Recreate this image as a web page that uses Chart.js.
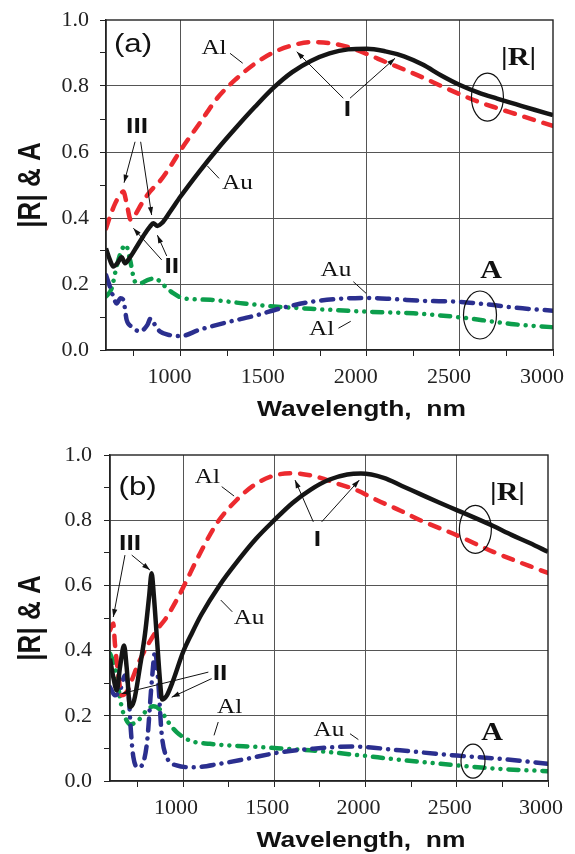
<!DOCTYPE html>
<html>
<head>
<meta charset="utf-8">
<script src="https://cdn.jsdelivr.net/npm/chart.js@4.4.0/dist/chart.umd.min.js"></script>
<style>
    html, body { margin: 0; padding: 0; background: #fff; }
    #wrap { position: relative; width: 575px; height: 854px; }
    #chartA { position: absolute; left: 0; top: 0; }
    #chartB { position: absolute; left: 0; top: 425px; }
</style>
</head>
<body>
<div id="wrap">
    <canvas id="chartA" width="575" height="425"></canvas>
    <canvas id="chartB" width="575" height="429"></canvas>
</div>
<script>
// tick positions (both panels)
var xTicks = [750, 1000, 1250, 1500, 1750, 2000, 2250, 2500, 2750, 3000];
var yTicks = [0, 0.1, 0.2, 0.3, 0.4, 0.5, 0.6, 0.7, 0.8, 0.9, 1.0];

// panel (a): |R| of Au
var wlAuRa = [600, 621, 639, 661, 684, 702, 729, 765, 800, 836, 854, 876, 899, 944, 1000, 1100, 1200, 1300, 1400, 1500,
    1600, 1700, 1800, 1900, 2000, 2100, 2200, 2300, 2400, 2500, 2600, 2700, 2800, 2900, 3000];
var auRa = [0.308, 0.273, 0.253, 0.263, 0.281, 0.263, 0.281, 0.313, 0.345, 0.374, 0.384, 0.376, 0.384, 0.419, 0.465, 0.54, 0.61, 0.675, 0.737, 0.795,
    0.842, 0.876, 0.899, 0.911, 0.913, 0.905, 0.89, 0.865, 0.832, 0.803, 0.78, 0.762, 0.745, 0.728, 0.712];
// panel (a): |R| of Al
var wlAlRa = [600, 625, 650, 675, 693, 711, 733, 756, 792, 836, 890, 950, 1000, 1100, 1200, 1300, 1400, 1500, 1600, 1700,
    1800, 1900, 2000, 2100, 2200, 2300, 2400, 2500, 2600, 2700, 2800, 2900, 3000];
var alRa = [0.368, 0.41, 0.445, 0.47, 0.48, 0.444, 0.394, 0.409, 0.444, 0.48, 0.512, 0.56, 0.605, 0.685, 0.765, 0.822, 0.868, 0.902, 0.923, 0.933,
    0.93, 0.918, 0.897, 0.873, 0.85, 0.826, 0.8, 0.775, 0.752, 0.733, 0.715, 0.697, 0.679];
// panel (a): A of Au
var wlAuAa = [600, 621, 639, 657, 678, 693, 711, 738, 783, 822, 840, 863, 890, 944, 1000, 1100, 1250, 1400, 1550, 1700,
    1850, 2000, 2150, 2300, 2500, 2650, 2800, 3000];
var auAa = [0.227, 0.192, 0.162, 0.141, 0.157, 0.152, 0.091, 0.071, 0.056, 0.076, 0.096, 0.076, 0.056, 0.045, 0.042, 0.061, 0.084, 0.104, 0.128, 0.146,
    0.155, 0.158, 0.154, 0.149, 0.146, 0.138, 0.128, 0.119];
// panel (a): A of Al
var wlAlAa = [600, 630, 657, 684, 707, 729, 756, 783, 822, 863, 908, 961, 1015, 1160, 1340, 1520, 1700, 2000, 2250, 2500,
    2680, 2790, 3000];
var alAa = [0.162, 0.186, 0.253, 0.303, 0.318, 0.273, 0.207, 0.202, 0.212, 0.217, 0.197, 0.172, 0.157, 0.152, 0.141, 0.131, 0.125, 0.116, 0.111, 0.099,
    0.086, 0.078, 0.069];

// panel (b): |R| of Au
var wlAuRb = [600, 618, 637, 655, 677, 691, 710, 732, 764, 792, 815, 828, 840, 858, 875, 885, 911, 947, 1000, 1050,
    1100, 1200, 1300, 1400, 1500, 1600, 1700, 1800, 1900, 1975, 2100, 2200, 2300, 2400, 2500, 2600, 2700, 2800, 2900, 3000];
var auRb = [0.375, 0.319, 0.278, 0.35, 0.416, 0.35, 0.227, 0.247, 0.35, 0.452, 0.57, 0.637, 0.57, 0.43, 0.30, 0.25, 0.262, 0.31, 0.395, 0.455,
    0.51, 0.60, 0.675, 0.743, 0.80, 0.853, 0.894, 0.924, 0.94, 0.943, 0.93, 0.905, 0.88, 0.855, 0.831, 0.807, 0.782, 0.755, 0.73, 0.703];
// panel (b): |R| of Al
var wlAlRb = [600, 618, 627, 645, 664, 691, 719, 755, 801, 856, 911, 965, 1002, 1093, 1185, 1294, 1404, 1513, 1604, 1733,
    1842, 1952, 2061, 2189, 2300, 2500, 2700, 3000];
var alRb = [0.462, 0.483, 0.421, 0.329, 0.263, 0.273, 0.309, 0.36, 0.411, 0.462, 0.503, 0.555, 0.595, 0.698, 0.79, 0.862, 0.913, 0.939, 0.944, 0.933,
    0.913, 0.892, 0.862, 0.83, 0.80, 0.754, 0.703, 0.638];
// panel (b): A of Au
var wlAuAb = [600, 627, 655, 682, 700, 713, 728, 755, 783, 804, 828, 847, 865, 883, 911, 965, 1056, 1203, 1349, 1532,
    1714, 1933, 2001, 2189, 2500, 2737, 3000];
var auAb = [0.288, 0.263, 0.278, 0.324, 0.288, 0.165, 0.073, 0.042, 0.058, 0.124, 0.299, 0.396, 0.299, 0.145, 0.073, 0.048, 0.042, 0.053, 0.068, 0.088,
    0.099, 0.106, 0.104, 0.094, 0.078, 0.068, 0.053];
// panel (b): A of Al
var wlAlAb = [600, 627, 645, 664, 682, 710, 755, 801, 837, 874, 919, 965, 1038, 1148, 1422, 1696, 1950, 2189, 2500, 2737, 3000];
var alAb = [0.391, 0.35, 0.288, 0.227, 0.196, 0.174, 0.186, 0.217, 0.229, 0.219, 0.181, 0.15, 0.124, 0.114, 0.104, 0.094, 0.08, 0.065, 0.048, 0.037, 0.03];

var SERIF = '21px "Liberation Serif", "Times New Roman", serif';
var BSERIF = 'bold 25px "Liberation Serif", "Times New Roman", serif';
var ROMAN = 'bold 22px "Liberation Sans", Arial, sans-serif';
var PANEL = '26px "Liberation Sans", Arial, sans-serif';

// labels, leaders, arrows and ellipses, placed in data units
var notesA = [
    { t: 'text', s: '(a)', x: 745, y: 0.924, f: PANEL },
    { t: 'text', s: 'Al', x: 1180, y: 0.915, f: SERIF },
    { t: 'line', x1: 1266, y1: 0.899, x2: 1334, y2: 0.869 },
    { t: 'text', s: 'Au', x: 1306, y: 0.504, f: SERIF },
    { t: 'line', x1: 1144, y1: 0.558, x2: 1207, y2: 0.520 },
    { t: 'text', s: 'III', x: 767, y: 0.676, f: ROMAN },
    { t: 'arrow', x1: 756, y1: 0.631, x2: 697, y2: 0.507 },
    { t: 'arrow', x1: 786, y1: 0.631, x2: 845, y2: 0.409 },
    { t: 'text', s: 'II', x: 953, y: 0.252, f: ROMAN },
    { t: 'arrow', x1: 899, y1: 0.273, x2: 747, y2: 0.369 },
    { t: 'arrow', x1: 926, y1: 0.285, x2: 876, y2: 0.348 },
    { t: 'text', s: 'I', x: 1896, y: 0.727, f: ROMAN },
    { t: 'arrow', x1: 1874, y1: 0.763, x2: 1624, y2: 0.904 },
    { t: 'arrow', x1: 1910, y1: 0.763, x2: 2152, y2: 0.884 },
    { t: 'text', s: '|R|', x: 2815, y: 0.882, f: BSERIF },
    { t: 'ellipse', x: 2648, y: 0.766, rx: 16, ry: 24 },
    { t: 'text', s: 'A', x: 2667, y: 0.237, f: BSERIF },
    { t: 'ellipse', x: 2608, y: 0.106, rx: 16.5, ry: 24 },
    { t: 'text', s: 'Au', x: 1834, y: 0.24, f: SERIF },
    { t: 'line', x1: 1928, y1: 0.207, x2: 1996, y2: 0.172 },
    { t: 'text', s: 'Al', x: 1758, y: 0.061, f: SERIF },
    { t: 'line', x1: 1848, y1: 0.066, x2: 1914, y2: 0.087 }
];
var notesB = [
    { t: 'text', s: '(b)', x: 751, y: 0.90, f: PANEL },
    { t: 'text', s: 'Al', x: 1134, y: 0.931, f: SERIF },
    { t: 'line', x1: 1212, y1: 0.903, x2: 1280, y2: 0.874 },
    { t: 'text', s: 'Au', x: 1362, y: 0.50, f: SERIF },
    { t: 'line', x1: 1207, y1: 0.555, x2: 1270, y2: 0.519 },
    { t: 'text', s: 'I', x: 1737, y: 0.739, f: ROMAN },
    { t: 'arrow', x1: 1714, y1: 0.795, x2: 1614, y2: 0.923 },
    { t: 'arrow', x1: 1760, y1: 0.795, x2: 1966, y2: 0.923 },
    { t: 'text', s: '|R|', x: 2778, y: 0.882, f: BSERIF },
    { t: 'ellipse', x: 2602, y: 0.772, rx: 16, ry: 24 },
    { t: 'text', s: 'III', x: 710, y: 0.727, f: ROMAN },
    { t: 'arrow', x1: 682, y1: 0.693, x2: 618, y2: 0.503 },
    { t: 'arrow', x1: 719, y1: 0.693, x2: 819, y2: 0.647 },
    { t: 'text', s: 'II', x: 1203, y: 0.329, f: ROMAN },
    { t: 'arrow', x1: 1139, y1: 0.334, x2: 664, y2: 0.268 },
    { t: 'arrow', x1: 1157, y1: 0.314, x2: 938, y2: 0.257 },
    { t: 'text', s: 'Al', x: 1256, y: 0.227, f: SERIF },
    { t: 'line', x1: 1193, y1: 0.181, x2: 1170, y2: 0.14 },
    { t: 'text', s: 'Au', x: 1800, y: 0.155, f: SERIF },
    { t: 'line', x1: 1915, y1: 0.145, x2: 1961, y2: 0.127 },
    { t: 'text', s: 'A', x: 2693, y: 0.146, f: BSERIF },
    { t: 'ellipse', x: 2589, y: 0.061, rx: 12, ry: 17 }
];

function pts(xs, ys) {
    return xs.map(function (x, i) { return { x: x, y: ys[i] }; });
}

function series(xs, ys, color, dash) {
    return {
        data: pts(xs, ys),
        borderColor: color,
        borderWidth: 4.5,
        borderDash: dash,
        borderCapStyle: dash.length ? 'round' : 'butt',
        borderJoinStyle: 'round',
        pointRadius: 0,
        fill: false,
        cubicInterpolationMode: 'monotone'
    };
}

// text of the figure is stretched sideways, as in the scanned original
function stretched(ctx, s, x, y, font, rot) {
    ctx.save();
    ctx.font = font;
    ctx.fillStyle = '#111';
    ctx.textAlign = 'center';
    ctx.textBaseline = 'middle';
    ctx.translate(x, y);
    if (rot) {
        ctx.rotate(-Math.PI / 2);
        ctx.scale(1, 1.2);
    } else {
        ctx.scale(1.2, 1);
    }
    ctx.fillText(s, 0, 0);
    ctx.restore();
}

function notesPlugin(items) {
    return {
        id: 'notes',
        afterDraw: function (chart) {
            var ctx = chart.ctx, a = chart.chartArea;
            var xs = chart.scales.x, ys = chart.scales.y;
            ctx.save();
            ctx.strokeStyle = '#222';
            ctx.lineWidth = 1.4;
            ctx.strokeRect(a.left, a.top, a.right - a.left, a.bottom - a.top);

            items.forEach(function (n) {
                ctx.strokeStyle = '#111';
                ctx.fillStyle = '#111';
                ctx.lineWidth = 1;
                if (n.t === 'text') {
                    stretched(ctx, n.s, xs.getPixelForValue(n.x), ys.getPixelForValue(n.y), n.f);
                } else if (n.t === 'ellipse') {
                    ctx.beginPath();
                    ctx.ellipse(xs.getPixelForValue(n.x), ys.getPixelForValue(n.y), n.rx, n.ry, 0, 0, Math.PI * 2);
                    ctx.lineWidth = 1.2;
                    ctx.stroke();
                } else {
                    var x1 = xs.getPixelForValue(n.x1), y1 = ys.getPixelForValue(n.y1);
                    var x2 = xs.getPixelForValue(n.x2), y2 = ys.getPixelForValue(n.y2);
                    ctx.beginPath();
                    ctx.moveTo(x1, y1);
                    ctx.lineTo(x2, y2);
                    ctx.stroke();
                    if (n.t === 'arrow') {
                        var ang = Math.atan2(y2 - y1, x2 - x1);
                        ctx.beginPath();
                        ctx.moveTo(x2, y2);
                        ctx.lineTo(x2 - 8 * Math.cos(ang) + 2.6 * Math.sin(ang), y2 - 8 * Math.sin(ang) - 2.6 * Math.cos(ang));
                        ctx.lineTo(x2 - 8 * Math.cos(ang) - 2.6 * Math.sin(ang), y2 - 8 * Math.sin(ang) + 2.6 * Math.cos(ang));
                        ctx.closePath();
                        ctx.fill();
                    }
                }
            });

            // axis titles
            stretched(ctx, 'Wavelength,  nm', (a.left + a.right) / 2 + 32, a.bottom + 59.5, 'bold 22px "Liberation Sans", Arial, sans-serif');
            stretched(ctx, '|R| & A', 31.5, (a.top + a.bottom) / 2, 'bold 26px "Liberation Sans", Arial, sans-serif', true);
            ctx.restore();
        }
    };
}

function makeChart(id, sets, notes, box) {
    var gridX = function (c) {
        return c.tick && c.tick.value % 500 === 0 && c.tick.value < 3000 ? '#555' : 'rgba(0,0,0,0)';
    };
    var gridY = function (c) {
        if (!c.tick) return 'rgba(0,0,0,0)';
        var k = Math.round(c.tick.value * 10);
        return k % 2 === 0 && k > 0 && k < 10 ? '#555' : 'rgba(0,0,0,0)';
    };
    var tickFont = { family: '"Liberation Serif", "Times New Roman", serif', size: 22 };
    return new Chart(document.getElementById(id), {
        type: 'line',
        data: {
            datasets: [
                series(sets[0][0], sets[0][1], '#151515', []),
                series(sets[1][0], sets[1][1], '#ec2a2f', [10, 10]),
                series(sets[2][0], sets[2][1], '#2b2f8f', [12, 8, 0.01, 8]),
                series(sets[3][0], sets[3][1], '#0c9e4c', [10, 8, 0.01, 8, 0.01, 8])
            ]
        },
        options: {
            responsive: false,
            animation: false,
            layout: { padding: { left: 0, right: box.right, top: box.top, bottom: 0 } },
            plugins: { legend: { display: false }, tooltip: { enabled: false } },
            scales: {
                x: {
                    type: 'linear',
                    min: 600,
                    max: 3000,
                    afterBuildTicks: function (s) {
                        s.ticks = xTicks.map(function (v) { return { value: v }; });
                    },
                    afterFit: function (s) {
                        s.height = box.xHeight;
                        s.paddingLeft = 0;
                        s.paddingRight = 0;
                    },
                    grid: { color: gridX, tickColor: '#222', tickLength: 6, lineWidth: 1 },
                    border: { color: '#222', width: 1.4 },
                    ticks: {
                        autoSkip: false,
                        maxRotation: 0,
                        padding: 8,
                        labelOffset: box.labelOffset,
                        color: '#222',
                        font: tickFont,
                        callback: function (v) { return v % 500 === 0 ? String(v) : ''; }
                    }
                },
                y: {
                    min: 0,
                    max: 1,
                    afterBuildTicks: function (s) {
                        s.ticks = yTicks.map(function (v) { return { value: v }; });
                    },
                    afterFit: function (s) {
                        s.width = box.yWidth;
                        s.paddingTop = 0;
                        s.paddingBottom = 0;
                    },
                    grid: { color: gridY, tickColor: '#222', tickLength: 6, lineWidth: 1 },
                    border: { color: '#222', width: 1.4 },
                    ticks: {
                        autoSkip: false,
                        padding: box.yPad,
                        color: '#222',
                        font: tickFont,
                        callback: function (v) {
                            return Math.round(v * 10) % 2 === 0 ? v.toFixed(1) : '';
                        }
                    }
                }
            }
        },
        plugins: [notesPlugin(notes)]
    });
}

makeChart('chartA', [[wlAuRa, auRa], [wlAlRa, alRa], [wlAuAa, auAa], [wlAlAa, alAa]], notesA,
    { right: 22, top: 20, xHeight: 75, yWidth: 106, yPad: 11, labelOffset: -11 });
makeChart('chartB', [[wlAuRb, auRb], [wlAlRb, alRb], [wlAuAb, auAb], [wlAlAb, alAb]], notesB,
    { right: 27, top: 30, xHeight: 73, yWidth: 110, yPad: 12, labelOffset: -7 });
</script>
</body>
</html>
